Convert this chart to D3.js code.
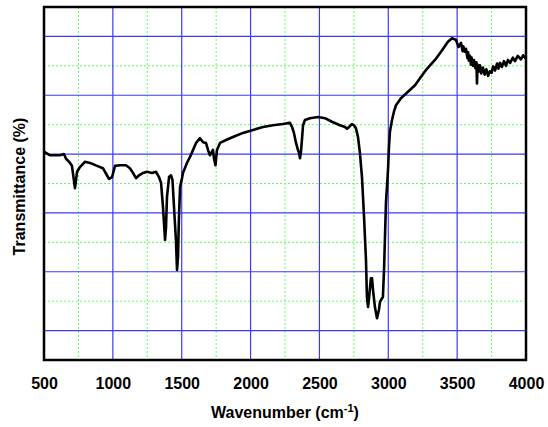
<!DOCTYPE html>
<html>
<head>
<meta charset="utf-8">
<script src="https://cdn.jsdelivr.net/npm/d3@7"></script>
<style>
    body { margin: 0; background: #fff; }
    text { font-family: "Liberation Sans", Arial, sans-serif; font-weight: bold; }
</style>
</head>
<body>
<svg id="chart" width="548" height="427"></svg>
<script>
// IR spectrum (wavenumber in cm-1, transmittance in arbitrary %)
const wavenumber = [
    500, 544, 616, 645, 660, 682, 703, 725, 740, 761, 798, 834, 885, 928, 957, 972, 994, 1016, 1052, 1095,
    1124, 1146, 1168, 1190, 1219, 1248, 1284, 1313, 1335, 1350, 1364, 1379, 1386, 1393, 1408, 1422, 1433, 1444, 1458, 1466,
    1473, 1480, 1488, 1502, 1509, 1538, 1560, 1582, 1604, 1633, 1655, 1676, 1691, 1705, 1727, 1734, 1745, 1756, 1778, 1822,
    1872, 1945, 2018, 2090, 2163, 2235, 2286, 2301, 2315, 2330, 2344, 2352, 2359, 2366, 2373, 2381, 2395, 2431, 2490, 2540,
    2591, 2649, 2686, 2700, 2715, 2736, 2751, 2765, 2780, 2794, 2809, 2824, 2838, 2845, 2853, 2860, 2874, 2882, 2889, 2903,
    2918, 2932, 2940, 2947, 2961, 2969, 2976, 2983, 2998, 3005, 3012, 3027, 3041, 3056, 3092, 3143, 3194, 3230, 3274, 3339,
    3383, 3433, 3463, 3492, 3510, 3528, 3540, 3545, 3555, 3564, 3575, 3580, 3585, 3593, 3600, 3605, 3615, 3622, 3632, 3640,
    3644, 3648, 3655, 3665, 3675, 3687, 3700, 3712, 3725, 3738, 3750, 3762, 3775, 3790, 3800, 3811, 3825, 3840, 3855, 3869,
    3885, 3905, 3920, 3940, 3963, 3980, 4000
]
const transmittance = [
    35.4, 34.8, 34.8, 35.0, 34.2, 33.7, 33.0, 29.2, 32.0, 32.8, 33.7, 33.5, 33.0, 32.6, 31.4, 30.8, 31.1, 33.0, 33.1, 33.1,
    32.6, 31.8, 30.9, 31.4, 31.8, 32.0, 31.8, 32.0, 31.1, 30.1, 26.0, 20.4, 22.6, 27.7, 31.1, 31.4, 30.6, 26.0, 20.4, 15.3,
    17.5, 24.3, 29.4, 30.9, 31.8, 33.5, 34.5, 35.7, 36.9, 37.7, 37.0, 36.9, 35.7, 34.8, 35.7, 34.3, 33.1, 35.7, 36.9, 37.4,
    37.9, 38.6, 39.1, 39.6, 39.9, 40.1, 40.3, 39.6, 38.6, 36.9, 35.7, 35.2, 34.3, 35.4, 37.4, 39.9, 40.8, 41.1, 41.3, 41.1,
    40.5, 39.9, 39.6, 39.3, 39.6, 40.1, 39.9, 39.4, 37.9, 35.2, 31.1, 24.3, 17.0, 10.7, 9.0, 10.5, 13.9, 13.9, 11.9, 9.0,
    7.1, 8.5, 9.9, 10.2, 10.7, 15.3, 20.9, 26.7, 32.3, 36.2, 38.8, 40.8, 42.2, 43.3, 44.5, 45.6, 46.7, 47.9, 49.3, 51.0,
    52.4, 54.1, 54.7, 54.4, 53.2, 53.9, 52.5, 53.3, 52.4, 52.9, 51.3, 52.3, 50.9, 51.7, 50.2, 51.4, 50.0, 51.0, 49.6, 50.6,
    47.0, 50.2, 49.0, 50.1, 48.7, 49.7, 48.5, 49.4, 48.3, 49.1, 48.8, 49.9, 49.2, 50.4, 49.5, 50.5, 49.8, 50.8, 50.0, 51.0,
    50.5, 51.4, 50.8, 51.7, 51.1, 51.8, 51.2
]

const xTicks = [500, 1000, 1500, 2000, 2500, 3000, 3500, 4000]
const xMinor = [750, 1250, 1750, 2250, 2750, 3250, 3750]
const yMajor = [5, 15, 25, 35, 45, 55]
const yMinor = [10, 20, 30, 40, 50]

const margin = {top: 7, right: 22, bottom: 67, left: 44},
    width = 548 - margin.left - margin.right,
    height = 427 - margin.top - margin.bottom;

const svg = d3.select("#chart")
    .append("g")
    .attr("transform", "translate(" + margin.left + "," + margin.top + ")")

const x = d3.scaleLinear().domain([500, 4000]).range([0, width])
const y = d3.scaleLinear().domain([0, 60]).range([height, 0])

// minor grid (green dotted)
svg.append("g").selectAll("line")
    .data(xMinor).enter().append("line")
    .attr("x1", d => x(d)).attr("x2", d => x(d))
    .attr("y1", 0).attr("y2", height)
    .attr("stroke", "#5cff5c").attr("stroke-width", 1).attr("stroke-dasharray", "2,2")
svg.append("g").selectAll("line")
    .data(yMinor).enter().append("line")
    .attr("y1", d => y(d)).attr("y2", d => y(d))
    .attr("x1", 0).attr("x2", width)
    .attr("stroke", "#5cff5c").attr("stroke-width", 1).attr("stroke-dasharray", "2,2")

// major grid (blue)
svg.append("g").selectAll("line")
    .data(xTicks.slice(1, -1)).enter().append("line")
    .attr("x1", d => x(d)).attr("x2", d => x(d))
    .attr("y1", 0).attr("y2", height)
    .attr("stroke", "#3a3aff").attr("stroke-width", 1.2)
svg.append("g").selectAll("line")
    .data(yMajor).enter().append("line")
    .attr("y1", d => y(d)).attr("y2", d => y(d))
    .attr("x1", 0).attr("x2", width)
    .attr("stroke", "#3a3aff").attr("stroke-width", 1.2)

// spectrum
const data = wavenumber.map((w, i) => ({w: w, t: transmittance[i]}))
svg.append("path")
    .datum(data)
    .attr("fill", "none")
    .attr("stroke", "#000")
    .attr("stroke-width", 2.6)
    .attr("stroke-linejoin", "round")
    .attr("d", d3.line().x(d => x(d.w)).y(d => y(d.t)))

// frame
svg.append("rect")
    .attr("x", 0).attr("y", 0)
    .attr("width", width).attr("height", height)
    .attr("fill", "none").attr("stroke", "#000").attr("stroke-width", 2.5)

// X axis labels
const xAxis = svg.append("g")
    .attr("transform", "translate(0," + height + ")")
    .call(d3.axisBottom(x).tickValues(xTicks).tickSize(0).tickPadding(18).tickFormat(d3.format("d")))
xAxis.select(".domain").remove()
xAxis.selectAll("text")
    .style("font-size", "16px")
    .style("font-weight", "bold")
    .attr("fill", "#000")

const xTitle = svg.append("text")
    .attr("x", width / 2)
    .attr("y", height + 58)
    .style("text-anchor", "middle")
    .style("font-size", "16px")
xTitle.append("tspan").text("Wavenumber (cm")
xTitle.append("tspan").attr("dy", "-6").style("font-size", "11px").text("-1")
xTitle.append("tspan").attr("dy", "6").text(")")

svg.append("text")
    .attr("transform", "translate(-19," + (height / 2 + 3) + ") rotate(-90)")
    .style("text-anchor", "middle")
    .style("font-size", "16px")
    .text("Transmittance (%)")
</script>
</body>
</html>
